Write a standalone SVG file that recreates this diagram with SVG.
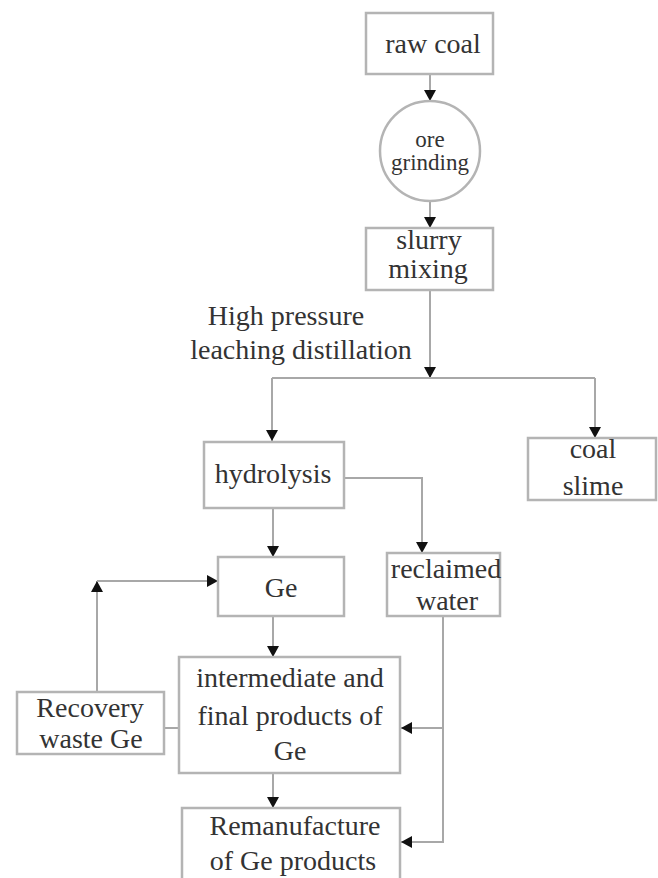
<svg xmlns="http://www.w3.org/2000/svg" width="658" height="878" viewBox="0 0 658 878">
<defs>
<marker id="arr" markerUnits="userSpaceOnUse" markerWidth="14" markerHeight="14" viewBox="0 0 14 14" refX="11" refY="7" orient="auto">
<path d="M0,1 L11,7 L0,13 z" fill="#111"/>
</marker>
<style>
.box{fill:#fff;stroke:#b4b4b4;stroke-width:2.5}
.t{font-family:"Liberation Serif","Times New Roman","DejaVu Serif",serif;font-size:28px;fill:#333;text-anchor:middle}
.s{font-size:23px}
.c{fill:none;stroke:#a8a8a8;stroke-width:2}
</style>
</defs>
<rect width="658" height="878" fill="#fff"/>
<g id="connectors">
<path class="c" d="M430,74 V101" marker-end="url(#arr)"/>
<path class="c" d="M430,201 V228" marker-end="url(#arr)"/>
<path class="c" d="M430,290 V378" marker-end="url(#arr)"/>
<path class="c" d="M272,378 H595"/>
<path class="c" d="M272,378 V441" marker-end="url(#arr)"/>
<path class="c" d="M595,378 V438" marker-end="url(#arr)"/>
<path class="c" d="M344,478 H422 V553" marker-end="url(#arr)"/>
<path class="c" d="M273,508 V557" marker-end="url(#arr)"/>
<path class="c" d="M273,616 V657" marker-end="url(#arr)"/>
<path class="c" d="M273,773 V808" marker-end="url(#arr)"/>
<path class="c" d="M164,728 H179"/>
<path class="c" d="M97,692 V581" marker-end="url(#arr)"/>
<path class="c" d="M97,581 H218" marker-end="url(#arr)"/>
<path class="c" d="M443,616 V842 H401" marker-end="url(#arr)"/>
<path class="c" d="M443,728 H401" marker-end="url(#arr)"/>
</g>
<g id="raw-coal"><rect class="box" x="366" y="13" width="127" height="61"/><text class="t" x="433" y="53">raw coal</text></g>
<g id="ore-grinding"><circle class="box" cx="430" cy="151" r="50"/><text class="t s" x="430" y="147">ore</text><text class="t s" x="430" y="170">grinding</text></g>
<g id="slurry-mixing"><rect class="box" x="366" y="228" width="127" height="62"/><text class="t" x="429" y="249">slurry</text><text class="t" x="428" y="278">mixing</text></g>
<g id="label-hpld"><text class="t" x="286" y="325">High pressure</text><text class="t" x="301" y="359">leaching distillation</text></g>
<g id="hydrolysis"><rect class="box" x="204" y="442" width="140" height="66"/><text class="t" x="273" y="483">hydrolysis</text></g>
<g id="coal-slime"><rect class="box" x="528" y="438" width="128" height="62"/><text class="t" x="593" y="458">coal</text><text class="t" x="593" y="495">slime</text></g>
<g id="ge"><rect class="box" x="218" y="557" width="126" height="59"/><text class="t" x="281" y="597">Ge</text></g>
<g id="reclaimed-water"><rect class="box" x="387" y="553" width="113" height="63"/><text class="t" x="446" y="578">reclaimed</text><text class="t" x="447" y="610">water</text></g>
<g id="intermediate"><rect class="box" x="179" y="657" width="221" height="116"/><text class="t" x="290" y="687">intermediate and</text><text class="t" x="290" y="725">final products of</text><text class="t" x="290" y="760">Ge</text></g>
<g id="recovery"><rect class="box" x="17" y="692" width="147" height="62"/><text class="t" x="90" y="717">Recovery</text><text class="t" x="91" y="748">waste Ge</text></g>
<g id="remanufacture"><rect class="box" x="182" y="808" width="218" height="80"/><text class="t" x="295" y="835">Remanufacture</text><text class="t" x="293" y="870">of Ge products</text></g>
</svg>
